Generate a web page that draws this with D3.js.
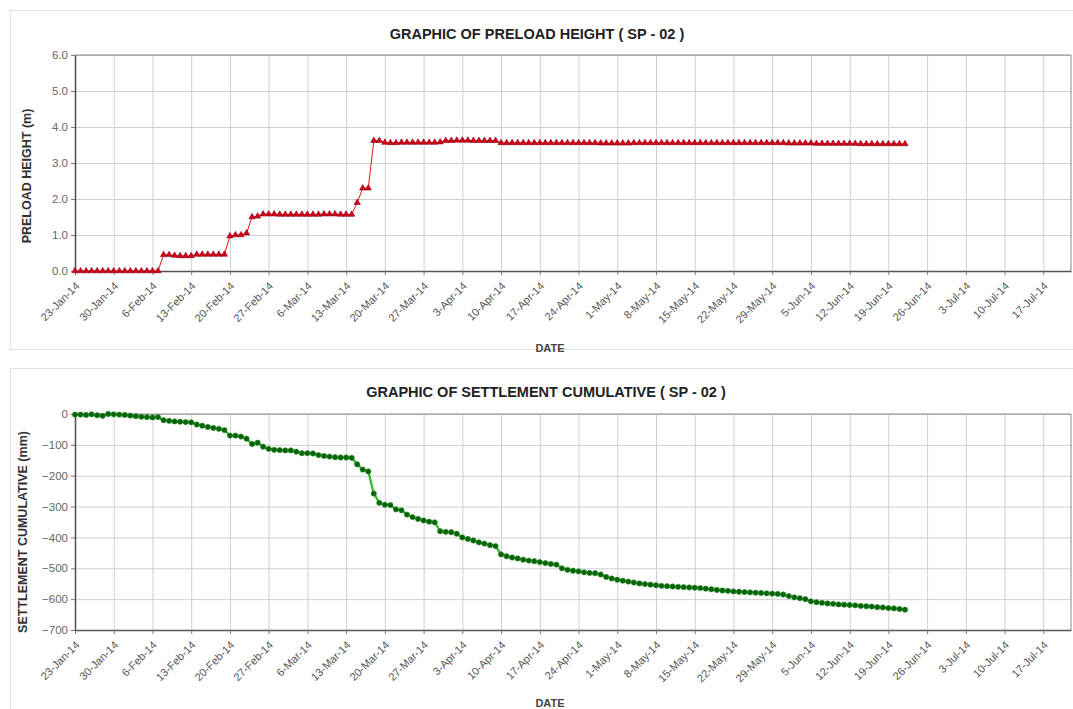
<!DOCTYPE html>
<html lang="en">
<head>
    <meta charset="utf-8">
    <title>SP-02 preload and settlement</title>
    <script src="https://cdn.jsdelivr.net/npm/d3@7"></script>
    <style>
        body { margin: 0; background: #fff; font-family: "Liberation Sans", Arial, sans-serif; }
        svg { display: block; }
    </style>
</head>
<body>
<svg width="1073" height="709"></svg>
<script>

    // readings are daily, starting on the first date
    var startDate = "23-Jan-14";
    var endDate = "22-Jul-14";

    var tickLabels = ["23-Jan-14", "30-Jan-14", "6-Feb-14", "13-Feb-14", "20-Feb-14", "27-Feb-14",
        "6-Mar-14", "13-Mar-14", "20-Mar-14", "27-Mar-14", "3-Apr-14", "10-Apr-14", "17-Apr-14",
        "24-Apr-14", "1-May-14", "8-May-14", "15-May-14", "22-May-14", "29-May-14", "5-Jun-14",
        "12-Jun-14", "19-Jun-14", "26-Jun-14", "3-Jul-14", "10-Jul-14", "17-Jul-14"];

    // preload height (m)
    var preload = [
        0, 0, 0, 0, 0, 0, 0, 0, 0, 0, 0, 0, 0, 0, 0, 0,
        0.45, 0.45, 0.43, 0.42, 0.42, 0.42, 0.46, 0.46, 0.46, 0.46, 0.46, 0.46,
        0.97, 1.0, 1.0, 1.05, 1.5, 1.52,
        1.58, 1.58, 1.58, 1.57, 1.57, 1.57, 1.57, 1.57, 1.57, 1.57, 1.57, 1.58, 1.58, 1.58, 1.57, 1.57, 1.57,
        1.9, 2.3, 2.3, 3.62, 3.62,
        3.57, 3.56, 3.56, 3.57, 3.57, 3.57, 3.57, 3.57, 3.57, 3.57, 3.58,
        3.62, 3.62, 3.63, 3.63, 3.63, 3.62, 3.62, 3.62, 3.62, 3.62,
        3.56, 3.56, 3.56, 3.56, 3.56, 3.56, 3.56, 3.56, 3.56, 3.56, 3.56, 3.56, 3.56, 3.56, 3.56,
        3.56, 3.56, 3.56, 3.55, 3.55, 3.55, 3.55, 3.55, 3.55, 3.56, 3.56, 3.56, 3.56, 3.56, 3.56,
        3.56, 3.56, 3.56, 3.56, 3.56, 3.56, 3.56, 3.56, 3.56, 3.56, 3.56, 3.56, 3.56, 3.56, 3.56,
        3.56, 3.56, 3.56, 3.56, 3.56, 3.56, 3.56, 3.55, 3.55, 3.55, 3.55, 3.55, 3.54, 3.54, 3.54,
        3.54, 3.54, 3.54, 3.54, 3.54, 3.53, 3.53, 3.53, 3.53, 3.53, 3.53, 3.53, 3.53, 3.53
    ];

    // settlement cumulative (mm)
    var settlement = [
        -2, -2, -3, -1, -4, -6, 0, -1, -2, -3, -5, -7, -9, -10, -11, -10,
        -20, -22, -24, -25, -26, -27, -34, -38, -42, -45, -48, -52,
        -70, -70, -73, -80, -97, -93, -106, -113, -116, -117, -118, -118,
        -122, -127, -127, -128, -133, -136, -138, -140, -141, -141, -142,
        -163, -180, -186, -258, -288, -294, -295, -309, -312,
        -326, -334, -340, -345, -349, -351, -380, -382, -383, -388,
        -400, -405, -410, -416, -420, -425, -428, -455, -461, -465,
        -468, -472, -475, -477, -480, -483, -486, -488, -500, -505,
        -508, -510, -513, -515, -516, -520, -528, -533, -537, -540,
        -543, -546, -549, -551, -553, -555, -557, -558, -559, -560,
        -561, -562, -563, -564, -566, -568, -570, -572, -573, -575,
        -576, -577, -578, -579, -580, -581, -582, -583, -585, -590,
        -594, -597, -600, -607, -610, -612, -614, -615, -617, -618,
        -619, -620, -622, -623, -624, -626, -627, -629, -630, -632, -634
    ];

    var preloadTicks = [0, 1, 2, 3, 4, 5, 6];
    var settlementTicks = [0, -100, -200, -300, -400, -500, -600, -700];

    var parseDate = d3.utcParse("%d-%b-%y");
    var fmtDate = d3.utcFormat("%-d-%b-%y");
    var start = parseDate(startDate);
    var tickDates = tickLabels.map(parseDate);

    function toPoints(values) {
        return values.map(function (v, i) {
            return { date: d3.utcDay.offset(start, i), value: v };
        });
    }

    var svg = d3.select("svg");

    function drawPanel(cfg) {
        var g = svg.append("g");

        // outer frame of the panel
        g.append("rect")
            .attr("x", cfg.frame[0] + 0.5).attr("y", cfg.frame[1] + 0.5)
            .attr("width", cfg.frame[2]).attr("height", cfg.frame[3])
            .attr("fill", "#fff").attr("stroke", "#e2e2e2");

        var x = d3.scaleUtc()
            .domain([start, parseDate(endDate)])
            .range([cfg.left, cfg.right]);
        var y = d3.scaleLinear()
            .domain(cfg.yDomain)
            .range([cfg.bottom, cfg.top]);

        // grid
        g.append("g")
            .attr("transform", "translate(0," + cfg.top + ")")
            .call(d3.axisBottom(x).tickValues(tickDates).tickSize(cfg.bottom - cfg.top).tickFormat(""))
            .call(function (s) {
                s.select(".domain").remove();
                s.selectAll("line").attr("stroke", "#cfcfcf");
            });
        g.append("g")
            .attr("transform", "translate(" + cfg.left + ",0)")
            .call(d3.axisRight(y).tickValues(cfg.yTicks).tickSize(cfg.right - cfg.left).tickFormat(""))
            .call(function (s) {
                s.select(".domain").remove();
                s.selectAll("line").attr("stroke", "#cfcfcf");
            });

        // top and right border
        g.append("path")
            .attr("d", "M" + cfg.left + "," + cfg.top + "H" + cfg.right + "V" + cfg.bottom)
            .attr("fill", "none").attr("stroke", "#8a8a8a");

        // x axis
        var xAxis = g.append("g")
            .attr("transform", "translate(0," + cfg.xAxisY + ")")
            .call(d3.axisBottom(x).tickValues(tickDates).tickSize(4).tickSizeOuter(0).tickFormat(fmtDate));
        xAxis.select(".domain").attr("stroke", "#555").attr("stroke-width", 1.6);
        xAxis.selectAll(".tick line").attr("stroke", "#777");
        xAxis.selectAll("text")
            .attr("font-family", "Liberation Sans, Arial, sans-serif")
            .attr("font-size", 11)
            .attr("fill", "#555")
            .attr("text-anchor", "end")
            .attr("x", 0).attr("y", 0)
            .attr("dy", "0.35em")
            .attr("transform", "translate(2,13) rotate(-45)");

        // y axis
        var yAxis = g.append("g")
            .attr("transform", "translate(" + cfg.left + ",0)")
            .call(d3.axisLeft(y).tickValues(cfg.yTicks).tickSize(4).tickSizeOuter(0).tickFormat(cfg.yFormat));
        yAxis.select(".domain").attr("stroke", "#555").attr("stroke-width", 1.6);
        yAxis.selectAll(".tick line").attr("stroke", "#777");
        yAxis.selectAll("text")
            .attr("font-family", "Liberation Sans, Arial, sans-serif")
            .attr("font-size", 11.5)
            .attr("fill", "#666");

        // titles
        g.append("text")
            .attr("x", cfg.titleX).attr("y", cfg.titleY)
            .attr("text-anchor", "middle")
            .attr("font-size", 14.5).attr("font-weight", "bold").attr("fill", "#222")
            .text(cfg.title);
        g.append("text")
            .attr("transform", "translate(" + cfg.yTitleX + "," + cfg.yTitleY + ") rotate(-90)")
            .attr("text-anchor", "middle")
            .attr("font-size", 12.5).attr("font-weight", "bold").attr("fill", "#333")
            .text(cfg.yTitle);
        g.append("text")
            .attr("x", 550).attr("y", cfg.dateY)
            .attr("text-anchor", "middle")
            .attr("font-size", 11).attr("font-weight", "bold").attr("fill", "#444")
            .text("DATE");

        // series
        var pts = toPoints(cfg.values);
        var line = d3.line()
            .x(function (d) { return x(d.date); })
            .y(function (d) { return y(d.value); });

        g.append("path")
            .datum(pts)
            .attr("d", line)
            .attr("fill", "none")
            .attr("stroke", cfg.lineColor)
            .attr("stroke-width", cfg.lineWidth);

        g.append("g").selectAll("path.mark")
            .data(pts)
            .enter().append("path")
            .attr("class", "mark")
            .attr("transform", function (d) {
                return "translate(" + x(d.date) + "," + y(d.value) + ")";
            })
            .attr("d", d3.symbol().type(cfg.symbol).size(cfg.symbolSize))
            .attr("fill", cfg.markFill)
            .attr("stroke", cfg.markStroke)
            .attr("stroke-width", 0.6);
    }

    drawPanel({
        frame: [10, 10, 1080, 339],
        left: 75, right: 1071, top: 55, bottom: 271, xAxisY: 271,
        yDomain: [0, 6], yTicks: preloadTicks, yFormat: d3.format(".1f"),
        title: "GRAPHIC OF PRELOAD HEIGHT ( SP - 02 )", titleX: 537, titleY: 39,
        yTitle: "PRELOAD HEIGHT (m)", yTitleX: 31, yTitleY: 176,
        dateY: 352,
        values: preload,
        lineColor: "#e8101a", lineWidth: 1,
        symbol: d3.symbolTriangle, symbolSize: 17,
        markFill: "#d4001a", markStroke: "#8a0010"
    });

    drawPanel({
        frame: [10, 368, 1080, 360],
        left: 75, right: 1071, top: 414, bottom: 630, xAxisY: 630,
        yDomain: [-700, 0], yTicks: settlementTicks, yFormat: d3.format("d"),
        title: "GRAPHIC OF SETTLEMENT CUMULATIVE ( SP - 02 )", titleX: 546, titleY: 397,
        yTitle: "SETTLEMENT CUMULATIVE (mm)", yTitleX: 27, yTitleY: 532,
        dateY: 707,
        values: settlement,
        lineColor: "#2dbb2d", lineWidth: 2.2,
        symbol: d3.symbolCircle, symbolSize: 22,
        markFill: "#0c620c", markStroke: "#1f8f1f"
    });

</script>
</body>
</html>
